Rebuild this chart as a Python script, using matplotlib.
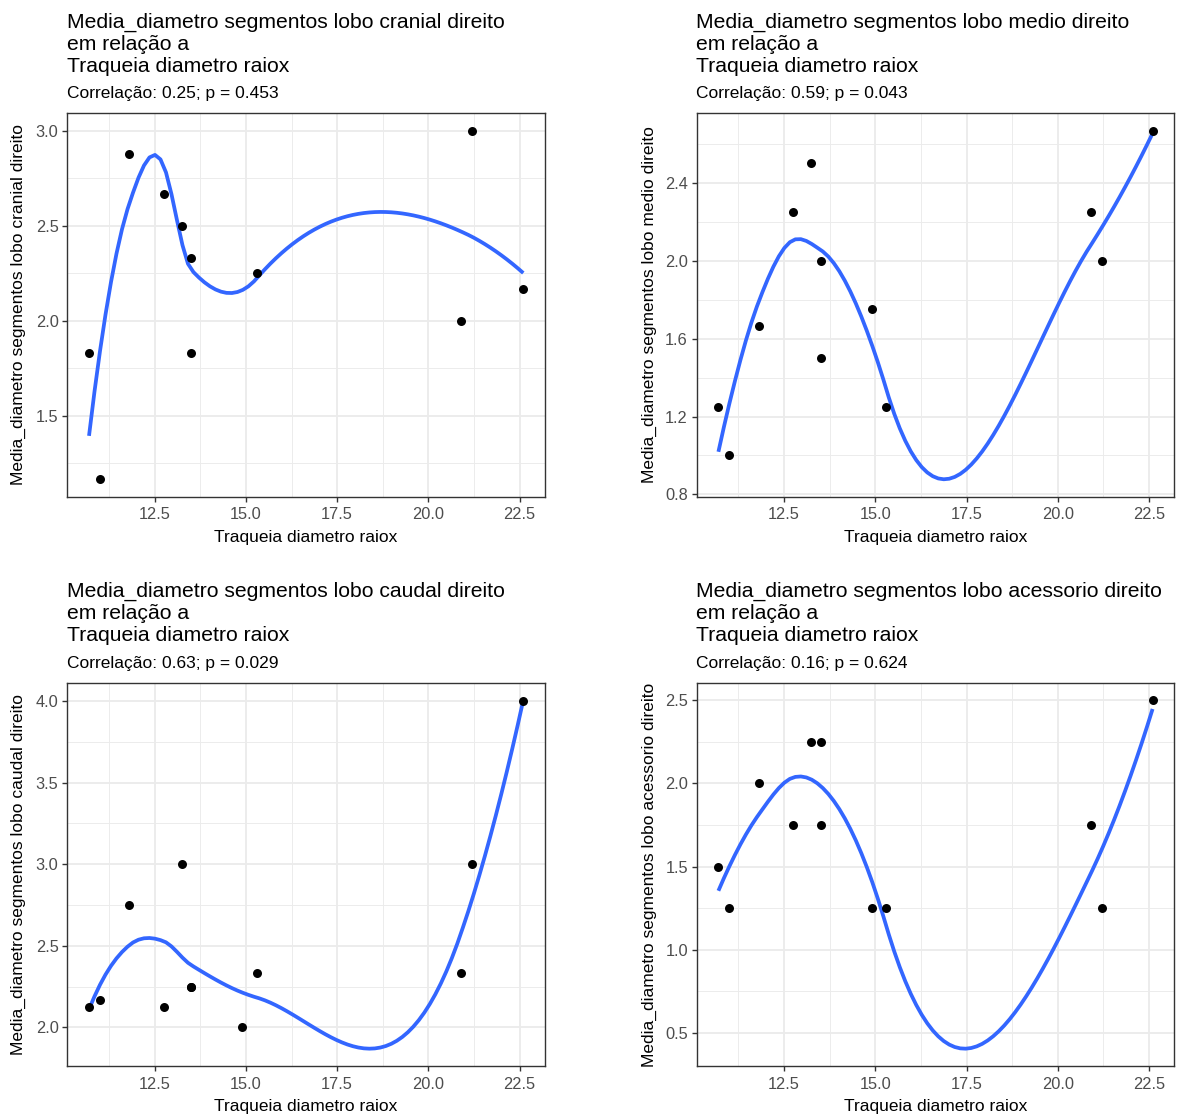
"""
Media diametro segmentos (lobos direitos) vs traqueia diametro raiox,
scatter + loess (ggplot style, surface = interpolate)
"""

import numpy as np
import matplotlib
matplotlib.use("Agg")
import matplotlib.pyplot as plt
from matplotlib.ticker import MultipleLocator, AutoMinorLocator

plt.rcParams['font.family'] = ['Liberation Sans', 'DejaVu Sans']

W, H = 1177, 1117

# x: traqueia diametro raiox
traqueia = [10.7, 11.0, 11.8, 12.75, 13.25, 13.5, 13.5, 14.9, 15.3, 20.9, 21.2, 22.6]

# y: media diametro segmentos per lobe (nan = missing)
lobo_cranial = [1.833, 1.167, 2.875, 2.667, 2.5, 2.333, 1.833, np.nan, 2.25, 2.0, 3.0, 2.167]
lobo_medio = [1.25, 1.0, 1.667, 2.25, 2.5, 2.0, 1.5, 1.75, 1.25, 2.25, 2.0, 2.667]
lobo_caudal = [2.125, 2.167, 2.75, 2.125, 3.0, 2.25, 2.25, 2.0, 2.333, 2.333, 3.0, 4.0]
lobo_acessorio = [1.5, 1.25, 2.0, 1.75, 2.25, 2.25, 1.75, 1.25, 1.25, 1.75, 1.25, 2.5]

lobos = ["cranial", "medio", "caudal", "acessorio"]
correlacao = ["0.25", "0.59", "0.63", "0.16"]
p_valor = ["0.453", "0.043", "0.029", "0.624"]
y_step = [0.5, 0.4, 0.5, 0.5]


def LoessInterp(x, y, xnew, span=0.75, cell=0.2):
    """ loess degree 2, kd tree vertices + cubic hermite (like R default) """
    x = np.asarray(x, float)
    y = np.asarray(y, float)
    ok = ~np.isnan(y)
    x = x[ok]
    y = y[ok]
    n = len(x)
    q = int(np.floor(n*span + 1e-5))
    fc = int(np.floor(n*span*cell))
    xs = np.sort(x)
    mu = 0.005*max(xs[-1] - xs[0], 1e-10*max(abs(xs[0]), abs(xs[-1])) + 1e-30)
    verts = [xs[0] - mu, xs[-1] + mu]
    cells = [(0, n - 1, xs[0] - mu, xs[-1] + mu)]
    while cells:
        l, u, a, b = cells.pop()
        if u - l + 1 <= fc:
            continue
        m = (l + u + 2)//2 - 1
        off = 0
        while l <= m + off < u:
            if xs[m + off] == xs[m + off + 1]:
                off = -off
                if off >= 0:
                    off += 1
            else:
                m = m + off
                break
        t = xs[m]
        if t == a or t == b:
            continue
        verts.append(t)
        cells.append((l, m, a, t))
        cells.append((m + 1, u, t, b))
    verts = np.sort(verts)

    val = []
    slope = []
    for v in verts:
        d = np.abs(x - v)
        h = np.sort(d)[q - 1]
        r = d/h
        w = np.where(r < 1, (1 - r**3)**3, 0.0)
        sw = np.sqrt(w)
        X = np.column_stack([np.ones(n), x - v, (x - v)**2])*sw[:, None]
        beta = np.linalg.lstsq(X, y*sw, rcond=None)[0]
        val.append(beta[0])
        slope.append(beta[1])
    val = np.array(val)
    slope = np.array(slope)

    k = np.clip(np.searchsorted(verts, xnew) - 1, 0, len(verts) - 2)
    hh = verts[k + 1] - verts[k]
    uu = (xnew - verts[k])/hh
    phi0 = (1 - uu)**2*(1 + 2*uu)
    phi1 = uu**2*(3 - 2*uu)
    psi0 = uu*(1 - uu)**2
    psi1 = -uu**2*(1 - uu)
    return phi0*val[k] + phi1*val[k + 1] + (psi0*slope[k] + psi1*slope[k + 1])*hh


fig = plt.figure(figsize=(W/100, H/100), dpi=100)

# panel boxes in pixels: left, right, top, bottom
boxes = [(67.3, 545.0, 113.3, 496.7),
         (696.7, 1174.3, 113.3, 496.7),
         (67.3, 545.0, 682.7, 1066.1),
         (696.7, 1174.3, 682.7, 1066.1)]
ylab_x = [18.5, 649.0, 18.5, 649.0]

series = [lobo_cranial, lobo_medio, lobo_caudal, lobo_acessorio]

for i in range(4):
    left, right, top, bottom = boxes[i]
    ax = fig.add_axes([left/W, 1 - bottom/H, (right - left)/W, (bottom - top)/H])
    xv = np.array(traqueia)
    yv = np.array(series[i], float)

    xseq = np.linspace(xv.min(), xv.max(), 80)
    yfit = LoessInterp(xv, yv, xseq)

    ax.scatter(xv, yv, s=42, color='black', linewidths=0, zorder=3)
    ax.plot(xseq, yfit, color='#3366FF', lw=2.7, zorder=2, solid_capstyle='butt')

    xmin, xmax = xv.min(), xv.max()
    ymin = min(np.nanmin(yv), yfit.min())
    ymax = max(np.nanmax(yv), yfit.max())
    ax.set_xlim(xmin - 0.05*(xmax - xmin), xmax + 0.05*(xmax - xmin))
    ax.set_ylim(ymin - 0.05*(ymax - ymin), ymax + 0.05*(ymax - ymin))

    ax.xaxis.set_major_locator(MultipleLocator(2.5))
    ax.xaxis.set_minor_locator(AutoMinorLocator(2))
    ax.yaxis.set_major_locator(MultipleLocator(y_step[i]))
    ax.yaxis.set_minor_locator(AutoMinorLocator(2))
    ax.xaxis.set_major_formatter(matplotlib.ticker.FormatStrFormatter('%.1f'))
    ax.yaxis.set_major_formatter(matplotlib.ticker.FormatStrFormatter('%.1f'))

    ax.grid(which='major', color='#EBEBEB', lw=1.3)
    ax.grid(which='minor', color='#EBEBEB', lw=0.65)
    ax.set_axisbelow(True)
    for sp in ax.spines.values():
        sp.set_color('#333333')
        sp.set_linewidth(1.0)
    ax.tick_params(which='major', length=3.3, width=1.0, color='#333333',
                   labelcolor='#4D4D4D', labelsize=11.8)
    ax.tick_params(axis='x', pad=4.3)
    ax.tick_params(axis='y', pad=3.0)
    ax.tick_params(which='minor', length=0)

    # titles
    dy = top - 113.3
    title_lines = ["Media_diametro segmentos lobo " + lobos[i] + " direito",
                   "em relação a",
                   "Traqueia diametro raiox"]
    for j, base in enumerate([27.7, 50.0, 71.7]):
        fig.text((left - 0.5)/W, 1 - (base + dy)/H, title_lines[j],
                 fontsize=15.2, va='baseline', ha='left', color='black')
    fig.text((left - 0.5)/W, 1 - (98.3 + dy)/H,
             "Correlação: " + correlacao[i] + "; p = " + p_valor[i],
             fontsize=12.5, va='baseline', ha='left', color='black')

    fig.text((left + right)/2/W, 1 - (541.7 + dy)/H, "Traqueia diametro raiox",
             fontsize=12.5, va='baseline', ha='center', color='black')
    fig.text(ylab_x[i]/W, 1 - ((top + bottom)/2)/H,
             "Media_diametro segmentos lobo " + lobos[i] + " direito",
             fontsize=12.5, rotation=90, va='center', ha='center', color='black')

plt.savefig("out.png", dpi=100)
